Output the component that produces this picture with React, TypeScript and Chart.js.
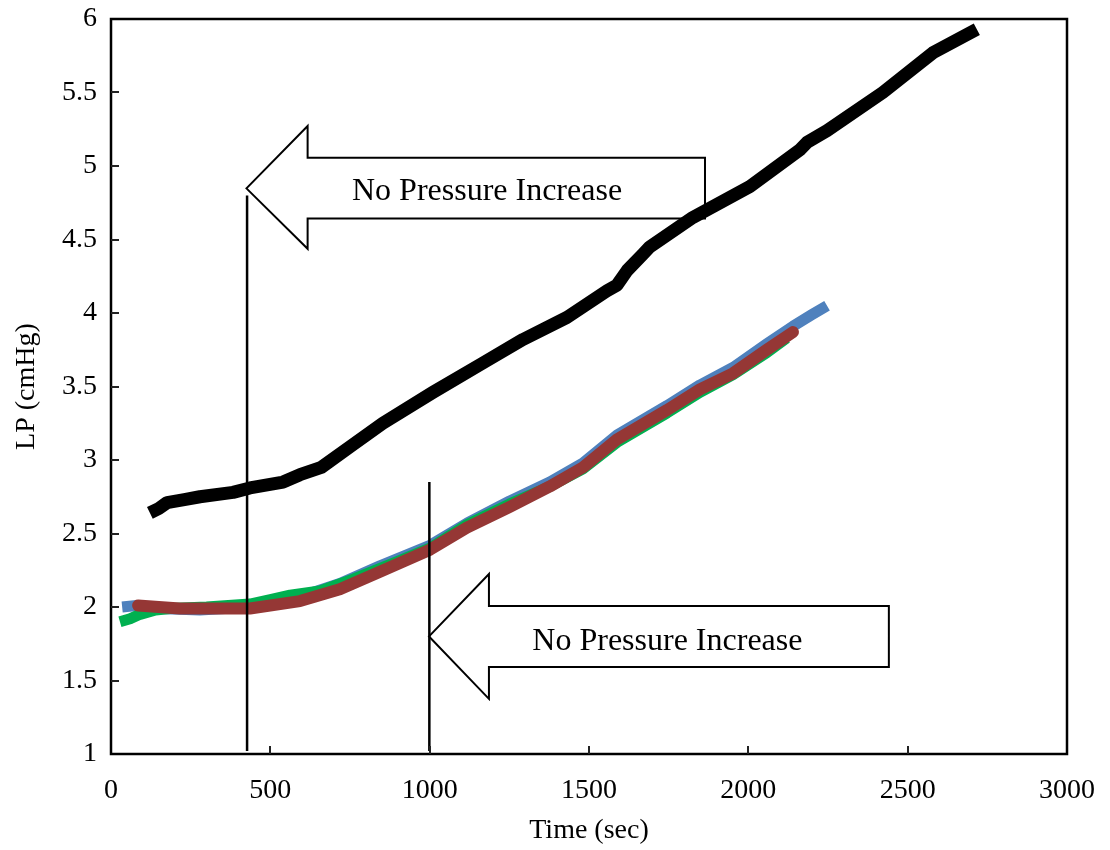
import { useEffect, useRef } from "react";
import { Chart, registerables } from "chart.js";

Chart.register(...registerables);

// Tick values
const xTickValues = [0, 500, 1000, 1500, 2000, 2500, 3000];
const yTickValues = [1, 1.5, 2, 2.5, 3, 3.5, 4, 4.5, 5, 5.5, 6];

// Run 1 (black)
const blackTime = [122, 150, 176, 230, 279, 383, 436, 540, 593, 660, 750, 853, 1010, 1167, 1293, 1431, 1556, 1588, 1620, 1669, 1691, 1826, 2005, 2162, 2184, 2247, 2422, 2579, 2717];
const blackLP = [2.64, 2.67, 2.71, 2.73, 2.75, 2.78, 2.81, 2.85, 2.9, 2.95, 3.09, 3.25, 3.46, 3.66, 3.82, 3.97, 4.15, 4.19, 4.29, 4.4, 4.45, 4.65, 4.86, 5.11, 5.16, 5.24, 5.5, 5.77, 5.93];

// Run 2 (blue)
const blueTime = [35, 80, 150, 279, 436, 593, 718, 844, 1001, 1117, 1250, 1377, 1481, 1588, 1745, 1848, 1952, 2058, 2140, 2200, 2247];
const blueLP = [2.0, 2.01, 1.99, 1.98, 2.0, 2.07, 2.16, 2.28, 2.42, 2.57, 2.72, 2.85, 2.98, 3.17, 3.37, 3.51, 3.63, 3.79, 3.91, 3.99, 4.05];

// Run 3 (green)
const greenTime = [28, 60, 91, 140, 185, 300, 436, 500, 562, 656, 760, 900, 1001, 1117, 1250, 1377, 1481, 1588, 1745, 1848, 1952, 2058, 2120];
const greenLP = [1.9, 1.92, 1.95, 1.98, 1.99, 2.0, 2.02, 2.05, 2.08, 2.11, 2.19, 2.31, 2.4, 2.56, 2.7, 2.82, 2.94, 3.12, 3.32, 3.46, 3.58, 3.73, 3.83];

// Run 4 (red)
const redTime = [85, 150, 216, 300, 436, 593, 718, 844, 1001, 1117, 1250, 1377, 1481, 1588, 1745, 1848, 1952, 2058, 2140];
const redLP = [2.01, 2.0, 1.99, 1.99, 1.99, 2.04, 2.12, 2.24, 2.39, 2.54, 2.68, 2.82, 2.95, 3.14, 3.34, 3.48, 3.59, 3.75, 3.87];

// Marker lines (time, bottom LP, top LP)
const markerTimes = [427, 999];
const markerBottoms = [1.02, 1.02];
const markerTops = [4.8, 2.85];

// Callout arrows, in axis units: tip, head back, tail end, head and shaft edges, label anchor
const calloutLabels = ["No Pressure Increase", "No Pressure Increase"];
const calloutTipX = [425, 998];
const calloutTipY = [4.848, 1.8];
const calloutHeadX = [617, 1186];
const calloutTailX = [1864, 2441];
const calloutHeadTop = [5.272, 2.224];
const calloutHeadBottom = [4.437, 1.375];
const calloutShaftTop = [5.056, 2.006];
const calloutShaftBottom = [4.643, 1.591];
const calloutTextX = [1180, 1746];
const calloutTextY = [4.768, 1.705];

const SERIF = "'Liberation Serif', 'Times New Roman', serif";

const toPoints = (xs: number[], ys: number[]) => xs.map((x, i) => ({ x, y: ys[i] }));

const calloutPlugin = {
  id: "callouts",
  beforeDatasetsDraw(chart: any) {
    const { ctx, scales } = chart;
    const sx = (v: number) => scales.x.getPixelForValue(v);
    const sy = (v: number) => scales.y.getPixelForValue(v);
    ctx.save();
    calloutLabels.forEach((label, i) => {
      ctx.beginPath();
      ctx.moveTo(sx(calloutTipX[i]), sy(calloutTipY[i]));
      ctx.lineTo(sx(calloutHeadX[i]), sy(calloutHeadTop[i]));
      ctx.lineTo(sx(calloutHeadX[i]), sy(calloutShaftTop[i]));
      ctx.lineTo(sx(calloutTailX[i]), sy(calloutShaftTop[i]));
      ctx.lineTo(sx(calloutTailX[i]), sy(calloutShaftBottom[i]));
      ctx.lineTo(sx(calloutHeadX[i]), sy(calloutShaftBottom[i]));
      ctx.lineTo(sx(calloutHeadX[i]), sy(calloutHeadBottom[i]));
      ctx.closePath();
      ctx.fillStyle = "#ffffff";
      ctx.fill();
      ctx.lineWidth = 2;
      ctx.lineJoin = "miter";
      ctx.strokeStyle = "#000000";
      ctx.stroke();
      ctx.fillStyle = "#000000";
      ctx.font = `32px ${SERIF}`;
      ctx.textAlign = "center";
      ctx.textBaseline = "alphabetic";
      ctx.fillText(label, sx(calloutTextX[i]), sy(calloutTextY[i]));
    });
    ctx.restore();
  },
  afterDatasetsDraw(chart: any) {
    const { ctx, scales, chartArea } = chart;
    const { left, right, top, bottom } = chartArea;
    const sx = (v: number) => scales.x.getPixelForValue(v);
    const sy = (v: number) => scales.y.getPixelForValue(v);
    ctx.save();
    // vertical marker lines
    ctx.strokeStyle = "#000000";
    ctx.lineWidth = 2.5;
    markerTimes.forEach((t, i) => {
      ctx.beginPath();
      ctx.moveTo(sx(t), sy(markerBottoms[i]));
      ctx.lineTo(sx(t), sy(markerTops[i]));
      ctx.stroke();
    });
    // plot frame
    ctx.lineWidth = 2.5;
    ctx.strokeRect(left, top, right - left, bottom - top);
    // inward tick marks
    ctx.lineWidth = 2;
    ctx.strokeStyle = "#222222";
    xTickValues.slice(1, -1).forEach((v) => {
      const px = Math.round(sx(v));
      ctx.beginPath();
      ctx.moveTo(px, bottom);
      ctx.lineTo(px, bottom - 8);
      ctx.stroke();
    });
    yTickValues.slice(1, -1).forEach((v) => {
      const py = Math.round(sy(v));
      ctx.beginPath();
      ctx.moveTo(left, py);
      ctx.lineTo(left + 8, py);
      ctx.stroke();
    });
    ctx.restore();
  },
};

const clearScalePadding = (scale: any) => {
  scale.paddingTop = 0;
  scale.paddingBottom = 0;
  scale.paddingLeft = 0;
  scale.paddingRight = 0;
};

export default function App() {
  const canvasRef = useRef<HTMLCanvasElement | null>(null);

  useEffect(() => {
    const canvas = canvasRef.current;
    if (!canvas) return;
    const line = (label: string, xs: number[], ys: number[], color: string, width: number, cap: string) => ({
      label,
      data: toPoints(xs, ys),
      showLine: true,
      borderColor: color,
      backgroundColor: color,
      borderWidth: width,
      borderCapStyle: cap,
      borderJoinStyle: "round",
      pointRadius: 0,
    });
    const chart = new Chart(canvas, {
      type: "scatter",
      data: {
        datasets: [
          line("Run 4", redTime, redLP, "#953735", 12, "round"),
          line("Run 3", greenTime, greenLP, "#00B050", 11, "butt"),
          line("Run 2", blueTime, blueLP, "#4F81BD", 11, "butt"),
          line("Run 1", blackTime, blackLP, "#000000", 13, "butt"),
        ],
      },
      options: {
        animation: false,
        responsive: false,
        maintainAspectRatio: false,
        layout: { padding: { left: 0, top: 19, right: 43, bottom: 0 } },
        plugins: {
          legend: { display: false },
          tooltip: { enabled: false },
        },
        scales: {
          x: {
            type: "linear",
            min: 0,
            max: 3000,
            afterBuildTicks: (scale: any) => {
              scale.ticks = xTickValues.map((value) => ({ value }));
            },
            afterFit: (scale: any) => {
              scale.height = 96;
              clearScalePadding(scale);
            },
            grid: { display: false, drawTicks: false },
            border: { display: false },
            ticks: {
              color: "#000000",
              font: { family: SERIF, size: 28 },
              padding: 20,
              maxRotation: 0,
              autoSkip: false,
              callback: (v: any) => String(v),
            },
            title: {
              display: true,
              text: "Time (sec)",
              color: "#000000",
              font: { family: SERIF, size: 28 },
              padding: { top: 0, bottom: 3 },
            },
          },
          y: {
            type: "linear",
            min: 1,
            max: 6,
            afterBuildTicks: (scale: any) => {
              scale.ticks = yTickValues.map((value) => ({ value }));
            },
            afterFit: (scale: any) => {
              scale.width = 111;
              clearScalePadding(scale);
            },
            grid: { display: false, drawTicks: false },
            border: { display: false },
            ticks: {
              color: "#000000",
              font: { family: SERIF, size: 28 },
              padding: 14,
              autoSkip: false,
              callback: (v: any) => String(v),
            },
            title: {
              display: true,
              text: "LP (cmHg)",
              color: "#000000",
              font: { family: SERIF, size: 28 },
              padding: { top: 10, bottom: 0 },
            },
          },
        },
      },
      plugins: [calloutPlugin],
    } as any);
    return () => chart.destroy();
  }, []);

  return (
    <div style={{ position: "absolute", left: 0, top: 0, width: 1110, height: 850, background: "#ffffff" }}>
      <canvas ref={canvasRef} width={1110} height={850} style={{ display: "block", width: 1110, height: 850 }} />
    </div>
  );
}
